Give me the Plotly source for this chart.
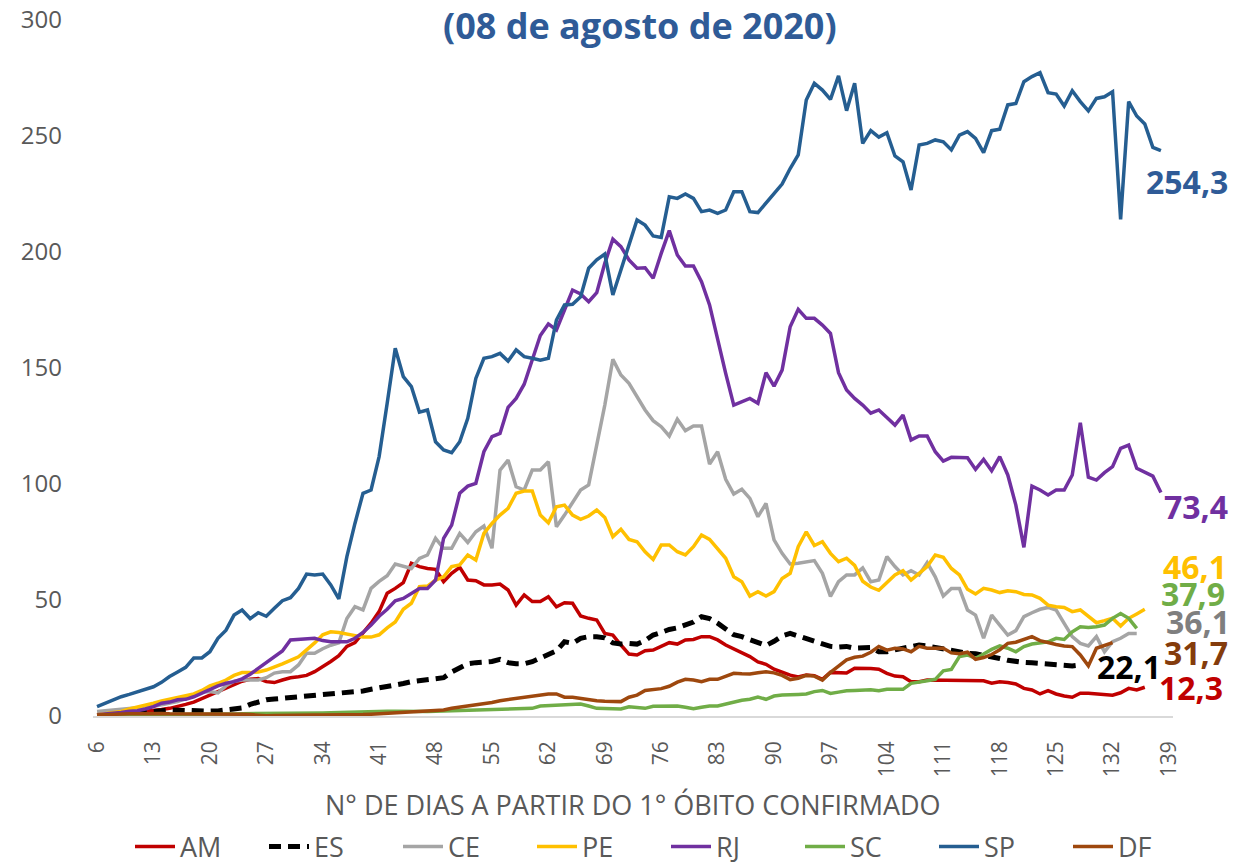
import plotly.graph_objects as go

# ---------------- data ----------------
START_DAY = 6
TICK_DAYS = [6, 13, 20, 27, 34, 41, 48, 55, 62, 69, 76, 83, 90, 97, 104, 111, 118, 125, 132, 139]

AM = [0.3, 0.5, 0.8, 1, 1.3, 1.6, 2, 2.3, 2.8, 3.3, 4, 5, 6, 7.5, 9, 10.5, 12, 13.4, 15, 15.8,
      16.2, 14.8, 14.4, 15.5, 16.5, 16.9, 17.5, 19.1, 21.2, 23.5, 26, 30, 31.6, 35.6, 40, 45, 52.9, 55, 57.5, 65.8,
      64.4, 63.6, 63.2, 57.9, 61.5, 64.1, 58.6, 58.3, 56.5, 56.5, 56.9, 54.3, 47.8, 52.2, 49.3, 49.3, 51.4, 47.1, 48.8, 48.6,
      43.1, 42.1, 41.4, 35.6, 34.9, 30.6, 26.7, 26.3, 28.1, 28.4, 30.2, 31.6, 31, 32.8, 33, 34.2, 34.2, 32.8, 30.6, 29,
      27.3, 25.6, 23.3, 22.3, 20.2, 18.8, 17.6, 16.8, 17.7, 17.4, 15.8, 18.8, 18.7, 18.5, 20.6, 20.6, 20.5, 20.2, 18.4, 17.2,
      16.9, 14.8, 14.8, 15.5, 15.5, 15.5, 15.5, 15.5, 15.2, 15.5, 15.2, 14.1, 14.8, 14.4, 13.8, 11.9, 11.2, 9.5, 10.9, 9.5,
      8.6, 8.1, 9.8, 9.8, 9.5, 9, 9, 10, 11.9, 11.2, 12.4]

ES = [0, 0, 0, 0.3, 0.8, 1.3, 1.7, 2, 2.3, 2.6, 2.5, 2.2, 1.9, 2, 2.1, 2.2, 2.5, 3, 3.5, 5,
      6.2, 7, 7.3, 7.6, 8, 8.2, 8.6, 9, 9.4, 9.6, 9.8, 10, 10.3, 10.8, 11.5, 12, 12.7, 13.3, 14, 14.8,
      15.2, 15.6, 16, 16.5, 19, 21, 22.5, 23, 23, 23.5, 24.4, 23, 22.5, 22.5, 23.4, 25, 26.5, 28.1, 32, 31.3,
      33.5, 34.2, 34.2, 33.7, 31.5, 31, 31.3, 31, 32.5, 34.9, 36, 37.3, 38, 39, 40.5, 42.8, 42, 40, 37.5, 35,
      34.2, 33, 32, 30.4, 32.2, 34.5, 35.6, 34.5, 33.5, 32.5, 31.3, 30, 29.7, 30, 29.2, 29.5, 29.5, 27.7, 27.7, 28.5,
      29.2, 30, 30.6, 30.2, 29.5, 28.7, 28, 27.3, 27, 26.8, 26.3, 25.6, 24.8, 24, 23.4, 23.1, 22.9, 22.7, 22.5, 22.2,
      21.7, 21.6, 22]

CE = [1.9, 2.2, 2.5, 2.7, 3, 3.5, 3.8, 4.2, 4.8, 5.5, 6.2, 7.5, 9, 10.5, 10.5, 10, 13, 15, 15.5, 15.5,
      15.5, 16.5, 18.5, 19.1, 19.1, 22, 27, 27, 29, 30.5, 31.5, 42, 47.1, 45.7, 55, 58, 60.5, 65.5, 64.4, 63.6,
      67.9, 69.4, 76.6, 72.3, 72.3, 78.7, 74.8, 79.4, 81.9, 72.3, 106, 110.3, 98.8, 97.4, 106, 106, 109.6, 81.6, 86.6, 91.7,
      97.4, 99.6, 116.1, 134, 153.7, 147, 143.4, 137.6, 131.9, 127.3, 124.7, 120.7, 127.9, 123, 125, 125, 108.6, 113.9, 102, 95.7,
      97.7, 93.8, 85.9, 91.6, 75.9, 70.1, 65.5, 65.8, 66.5, 67, 61.5, 51.5, 57.9, 60.8, 60.8, 63.8, 57.9, 58.6, 68.7, 64.4,
      60.8, 62.6, 60.8, 66.1, 60, 51.7, 55, 55, 45.7, 43.5, 33.5, 43.5, 39.2, 34.9, 36.8, 42.8, 44.5, 46, 46.8, 45.7,
      39.9, 34.2, 31.3, 30.2, 34.2, 27.7, 32, 33.5, 35.6, 35.6]

PE = [0.5, 1, 1.5, 2, 3, 3.8, 4.5, 5.5, 6.5, 7.2, 8, 8.5, 9.5, 11, 13, 14.1, 15.5, 17.5, 18.7, 18.7,
      19, 19.8, 21, 22.5, 24, 25.5, 28.5, 31.5, 35, 36.3, 36, 35.3, 34.5, 34, 34, 35, 38, 40.5, 46, 48.6,
      55.7, 56, 58.6, 60, 64.4, 65.1, 69.4, 67.2, 78.7, 83, 86.6, 89.5, 96, 97, 97, 86.6, 83.3, 90.2, 90.9, 86.6,
      84.8, 86.2, 88.8, 85.6, 77.3, 80.5, 76.1, 75.1, 70.8, 67.5, 73.7, 73.7, 70.8, 69.4, 73, 78, 76.1, 72.3, 68, 60,
      57.9, 51.7, 53.6, 51.7, 53.6, 59.3, 61.5, 73, 79.4, 73.5, 75.1, 70.1, 66.5, 68, 64.9, 58.1, 55.6, 54.2, 57.5, 60.8,
      62.6, 58.6, 61.5, 64.4, 69.4, 68.4, 63.6, 60.8, 54.6, 52.6, 55, 54.3, 53.2, 54, 53.6, 52.4, 52.2, 50.7, 47.8, 47.1,
      46.8, 45, 45.7, 43.1, 40.2, 41.1, 42.1, 38.8, 42.1, 44, 46]

RJ = [0.5, 0.8, 1, 1.5, 2, 2.3, 3, 4, 5.5, 6, 7, 7.2, 8.3, 10, 11.5, 13, 14.1, 14.8, 16, 18,
      20.5, 23, 25.5, 28, 32.8, 33, 33, 33.5, 32.5, 32, 32, 32, 33.5, 36, 39.2, 43, 46, 49.7, 50.7, 52.9,
      55, 55, 58.6, 76.6, 82.3, 96, 99.1, 100.3, 113.9, 120.4, 121.8, 133, 136.9, 143, 153.4, 164, 169, 166.4, 175, 183.6,
      181.9, 178.6, 182.5, 195.1, 205.5, 202.3, 196.6, 193, 193.2, 188.7, 199.4, 209.2, 198.7, 194, 194, 187.2, 177.2, 162, 147.7, 134,
      135.5, 136.9, 134.8, 148, 142.2, 149.1, 167.8, 175.3, 171.4, 171.4, 168.5, 164.9, 148, 140.5, 136.9, 134, 130.5, 131.9, 128.7, 125.4,
      129.7, 119, 120.7, 120.7, 113.9, 109.9, 111.5, 111.3, 111.3, 106.3, 110.6, 105.7, 111.8, 103.9, 90.9, 72.7, 99.1, 97.4, 95.3, 97.4,
      97.4, 103.9, 126.4, 102.9, 101.7, 104.9, 107.5, 115.4, 116.8, 106.8, 104.9, 103.4, 96.3]

SC = [0.2, 0.2, 0.3, 0.3, 0.4, 0.4, 0.5, 0.5, 0.5, 0.6, 0.6, 0.6, 0.7, 0.7, 0.8, 0.8, 0.9, 0.9, 1, 1,
      1, 1, 1.1, 1.1, 1.2, 1.2, 1.2, 1.3, 1.3, 1.4, 1.5, 1.5, 1.6, 1.8, 2, 2.2, 2.1, 2, 1.9, 1.9,
      1.9, 1.9, 2, 2.1, 2.2, 2.3, 2.3, 2.5, 2.6, 2.6, 2.7, 2.8, 3, 3.2, 3.3, 4.3, 4.5, 4.6, 4.7, 5,
      5.2, 4.3, 3.3, 3.2, 3, 3, 4, 3.8, 3.3, 4.2, 4.3, 4.3, 4.3, 3.8, 3.1, 3.8, 4.3, 4.3, 5.2, 6.2,
      6.8, 7.2, 8.2, 7.2, 8.6, 9, 9.3, 9.3, 9.5, 10.5, 11, 9.7, 10.3, 10.9, 11, 11.2, 11.3, 10.9, 11.5, 11.5,
      11.5, 14.1, 14.5, 15.2, 15.8, 19.5, 20.1, 25.6, 26.3, 24.9, 26.7, 28.7, 30.2, 29.2, 27.7, 29.9, 31, 31.6, 32, 33.5,
      33, 36.3, 38.5, 38.2, 38.5, 39.2, 42.1, 44.2, 42.1, 37.8]

SP = [4, 5.5, 7, 8.3, 9.3, 10.5, 11.5, 12.6, 14.5, 17, 19, 21, 25, 25, 27.7, 33.5, 37, 43.5, 45.7, 42,
      44.5, 43, 46.4, 49.7, 51, 55, 61.2, 60.8, 61.2, 56.5, 50.5, 68.7, 83, 96, 97.4, 111.8, 134.8, 158.5, 146.3, 142,
      131, 131.9, 118.2, 114.7, 113.5, 118.2, 128.3, 145.5, 154.2, 154.9, 156.3, 153, 157.8, 154.9, 154.2, 153.4, 154.2, 170.7, 177.2, 177.5,
      180.7, 193, 196.6, 199.1, 181.5, 192.2, 203, 213.8, 211.6, 206.9, 206.3, 223.8, 223.1, 225, 223.1, 217.4, 218.1, 216.7, 218.1, 226,
      226, 217.4, 217, 221, 225.3, 229.3, 236, 241.8, 265.5, 272.7, 269.8, 265.8, 275.9, 260.9, 272.7, 246.8, 252.3, 249.5, 251.4, 241.4,
      238.9, 226.7, 246.1, 246.8, 248.3, 247.5, 244, 250.4, 251.9, 249, 242.8, 252.3, 252.9, 263.4, 264, 273.4, 275.6, 277.3, 268.7, 268.1,
      262.9, 269.5, 264.8, 260.8, 266.2, 266.9, 269.1, 214.1, 264.8, 258.6, 255.2, 245.1, 243.7]

DF = [0.4, 0.6, 0.8, 0.9, 1, 1, 1.1, 1.1, 1.1, 1, 1, 1, 1, 1, 1.1, 1.1, 1.1, 0.9, 0.8, 0.6,
      0.3, 0.1, 0.2, 0.3, 0.3, 0.4, 0.4, 0.4, 0.4, 0.4, 0.4, 0.4, 0.4, 0.6, 0.8, 1, 1.3, 1.5, 1.8, 2,
      2.3, 2.5, 2.6, 2.6, 3.3, 3.8, 4.3, 4.8, 5.2, 5.8, 6.6, 7.1, 7.6, 8, 8.3, 9, 9.5, 9.5, 8.1, 8.1,
      7.6, 7, 6.6, 6.4, 6.3, 6.2, 8.1, 9, 11, 11.4, 11.8, 12.8, 14.6, 15.8, 15.5, 14.8, 15.8, 15.8, 17, 18.4,
      18.2, 18.1, 18.6, 19.1, 18.6, 17.5, 15.7, 16.3, 17.5, 17.2, 15.5, 18.8, 21.5, 24.2, 25.3, 25.8, 27.5, 30, 28.4, 29.2,
      28.9, 27.7, 30, 29.2, 29.2, 29.2, 27.2, 26.8, 27.5, 24.4, 25.2, 26.5, 28.5, 31.3, 31.8, 33, 34.2, 32.5, 31.6, 30.8,
      30.2, 29.9, 26.3, 21.6, 29.2, 30.6, 31.6]

STATES = ["AM", "ES", "CE", "PE", "RJ", "SC", "SP", "DF"]
SERIES = {"AM": AM, "ES": ES, "CE": CE, "PE": PE, "RJ": RJ, "SC": SC, "SP": SP, "DF": DF}
END_LABELS = {"AM": "12,3", "ES": "22,1", "CE": "36,1", "PE": "46,1",
              "RJ": "73,4", "SC": "37,9", "SP": "254,3", "DF": "31,7"}

TITLE = "(08 de agosto de 2020)"
X_TITLE = "N° DE DIAS A PARTIR DO 1° ÓBITO CONFIRMADO"

# ---------------- styles ----------------
COLORS = {"AM": "#C00000", "ES": "#000000", "CE": "#A5A5A5", "PE": "#FFC000",
          "RJ": "#7030A0", "SC": "#70AD47", "SP": "#255E91", "DF": "#9E480E"}
LABEL_COLORS = {"AM": "#C00000", "ES": "#000000", "CE": "#7F7F7F", "PE": "#FFC000",
                "RJ": "#7030A0", "SC": "#70AD47", "SP": "#2F5B97", "DF": "#843C0C"}
# pixel offsets of the end labels relative to each series' last point
LABEL_SHIFT = {"AM": (12, 0), "ES": (15, -2), "CE": (27, 12), "PE": (16, 43),
               "RJ": (1, -14), "SC": (22, 35), "SP": (-17, -31), "DF": (49, -10)}

FONT = "Open Sans"
GRAY = "#595959"

# plot area in pixels: x 93..1173, y 20..716
PLOT_TOP, PLOT_BOTTOM = 20, 716
PLOT_H = PLOT_BOTTOM - PLOT_TOP


def paper_y(py):
    return (PLOT_BOTTOM - py) / PLOT_H


fig = go.Figure()
for st in STATES:
    vals = SERIES[st]
    days = list(range(START_DAY, START_DAY + len(vals)))
    line = dict(color=COLORS[st], width=3.5)
    if st == "ES":
        line = dict(color=COLORS[st], width=5, dash="12px,7px")
    fig.add_trace(go.Scatter(x=days, y=vals, mode="lines", name=st, line=line,
                             hoverinfo="skip"))
    last_day = days[-1]
    dx, dy = LABEL_SHIFT[st]
    fig.add_annotation(x=last_day, y=vals[-1], xref="x", yref="y",
                       text=END_LABELS[st], showarrow=False,
                       xanchor="left", yanchor="middle", xshift=dx, yshift=dy,
                       font=dict(family=FONT, size=32, color=LABEL_COLORS[st], weight="bold"))

fig.add_annotation(x=(640 - 93) / 1080, y=paper_y(26), xref="paper", yref="paper", text=TITLE,
                   showarrow=False, xanchor="center", yanchor="middle",
                   font=dict(family=FONT, size=36, color="#2F5B97", weight="bold"))
fig.add_annotation(x=0.5, y=paper_y(804), xref="paper", yref="paper", text=X_TITLE,
                   showarrow=False, xanchor="center", yanchor="middle",
                   font=dict(family=FONT, size=27, color=GRAY))

fig.update_layout(
    width=1253, height=864,
    margin=dict(l=93, r=80, t=PLOT_TOP, b=864 - PLOT_BOTTOM, autoexpand=False),
    paper_bgcolor="white", plot_bgcolor="white",
    font=dict(family=FONT, color=GRAY),
    showlegend=True,
    legend=dict(orientation="h", xref="container", yref="container",
                x=130 / 1253, xanchor="left", y=1 - 847 / 864, yanchor="middle",
                font=dict(family=FONT, size=27, color=GRAY),
                entrywidth=79, entrywidthmode="pixels", itemwidth=40,
                bgcolor="rgba(0,0,0,0)"),
    xaxis=dict(range=[START_DAY - 0.5, 139.5], tickmode="array", tickvals=TICK_DAYS,
               ticktext=[str(d) for d in TICK_DAYS], tickangle=-90,
               tickfont=dict(family=FONT, size=21, color=GRAY),
               showgrid=False, zeroline=False, showline=True,
               linecolor="#D9D9D9", linewidth=1.5, ticks="", ticklabelstandoff=15),
    yaxis=dict(range=[0, 300], tickvals=[0, 50, 100, 150, 200, 250, 300],
               tickfont=dict(family=FONT, size=24, color=GRAY),
               showgrid=False, zeroline=False, showline=False, ticks="",
               ticklabelstandoff=30),
)

# remove the browser's default 8px page margin so the figure sits at the top-left corner
fig.write_html("out.html", config={"displayModeBar": False},
               post_script="document.body.style.margin='0';")
